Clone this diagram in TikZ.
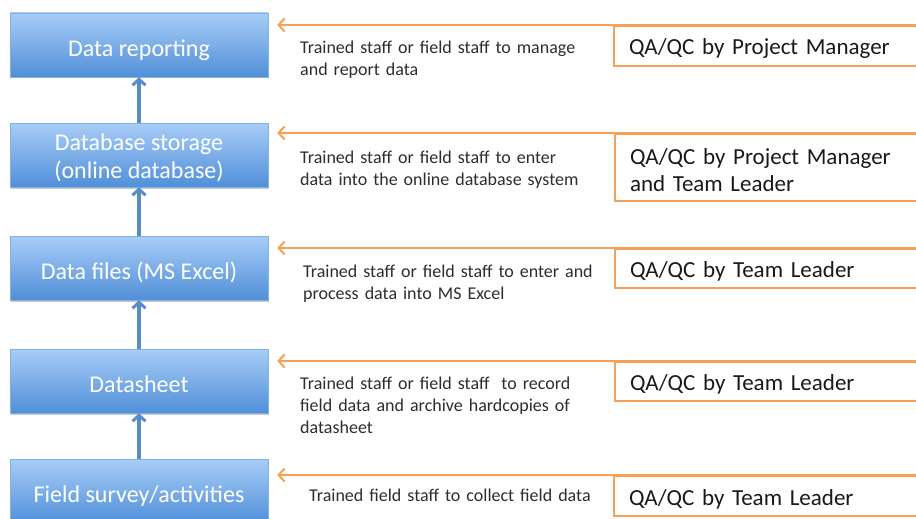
\documentclass[tikz,border=0pt]{standalone}
\usepackage{fontspec}
\setmainfont{Carlito}
\usetikzlibrary{arrows.meta,shadows}
\definecolor{orng}{RGB}{248,160,86}
\definecolor{bluearr}{RGB}{88,140,200}
\definecolor{btop}{RGB}{168,205,248}
\definecolor{bbot}{RGB}{80,143,216}
\definecolor{txt}{RGB}{25,25,25}
\definecolor{desc}{RGB}{45,45,45}
\begin{document}
\begin{tikzpicture}[x=1pt,y=-1pt,
  stepbox/.style={rectangle, minimum width=258pt, minimum height=64pt,
    top color=btop, bottom color=bbot, draw=bbot!70!white, line width=0.4pt,
    text=white, font=\fontsize{24}{28}\selectfont, align=center, inner sep=0pt,
    text height=24pt, text depth=1pt,
    drop shadow={shadow xshift=0.8pt, shadow yshift=-1.5pt, opacity=0.35, fill=black!60}},
  upar/.style={draw=bluearr, line width=3.5pt, -{Straight Barb[length=6pt,width=13pt,line width=3pt]}},
  qabox/.style={draw=orng, line width=2pt, anchor=north west, minimum width=330pt,
    text width=300pt, align=left, inner xsep=8pt, inner ysep=0pt,
    text height=20pt, text depth=2pt,
    font=\fontsize{23}{27}\selectfont, text=txt},
  descr/.style={anchor=north west, inner sep=0pt, text width=320pt, align=left,
    font=\fontsize{18}{22}\selectfont, text=desc},
  orar/.style={draw=orng, line width=2pt, -{Straight Barb[length=6pt,width=13pt,line width=2pt]}, shorten >=9pt}
]
\useasboundingbox (0,0) rectangle (916,519);
\begin{scope}
\clip (0,0) rectangle (916,519);
% blue boxes
\node[stepbox] (b1) at (139,45) {Data reporting};
\node[stepbox, text height=48pt, text depth=2pt] (b2) at (139,155) {Database storage\\(online database)};
\node[stepbox] (b3) at (139,268) {Data files (MS Excel)};
\node[stepbox] (b4) at (139,381) {Datasheet};
\node[stepbox] (b5) at (139,491) {Field survey/activities};
% vertical arrows
\draw[upar] (b2.north) -- (b1.south);
\draw[upar] (b3.north) -- (b2.south);
\draw[upar] (b4.north) -- (b3.south);
\draw[upar] (b5.north) -- (b4.south);
% QA boxes
\node[qabox, minimum height=40pt] (q1) at (613,25) {QA/QC by Project Manager};
\node[qabox, minimum height=67pt, text height=20pt, text depth=25.5pt] (q2) at (614,133) {QA/QC by Project Manager\\and Team Leader};
\node[qabox, minimum height=39pt] (q3) at (614,248) {QA/QC by Team Leader};
\node[qabox, minimum height=39pt] (q4) at (614,361) {QA/QC by Team Leader};
\node[qabox, minimum height=40pt] (q5) at (613,475) {QA/QC by Team Leader};
% orange arrows
\coordinate (r1) at (916,25);
\coordinate (r2) at (916,133);
\coordinate (r3) at (916,248);
\coordinate (r4) at (916,361);
\coordinate (r5) at (916,475);
\draw[orar] (r1) -- (b1.east |- r1);
\draw[orar] (r2) -- (b2.east |- r2);
\draw[orar] (r3) -- (b3.east |- r3);
\draw[orar] (r4) -- (b4.east |- r4);
\draw[orar] (r5) -- (b5.east |- r5);
% descriptions
\node[descr] (d1) at (300,41) {Trained staff or field staff to manage\\and report data};
\node[descr] (d2) at (300,151) {Trained staff or field staff to enter\\data into the online database system};
\node[descr] (d3) at (303,265) {Trained staff or field staff to enter and\\process data into MS Excel};
\node[descr] (d4) at (300,377) {Trained staff or field staff\ \ to record\\field data and archive hardcopies of\\datasheet};
\node[descr] (d5) at (309,489) {Trained field staff to collect field data};
\end{scope}
\end{tikzpicture}
\end{document}
